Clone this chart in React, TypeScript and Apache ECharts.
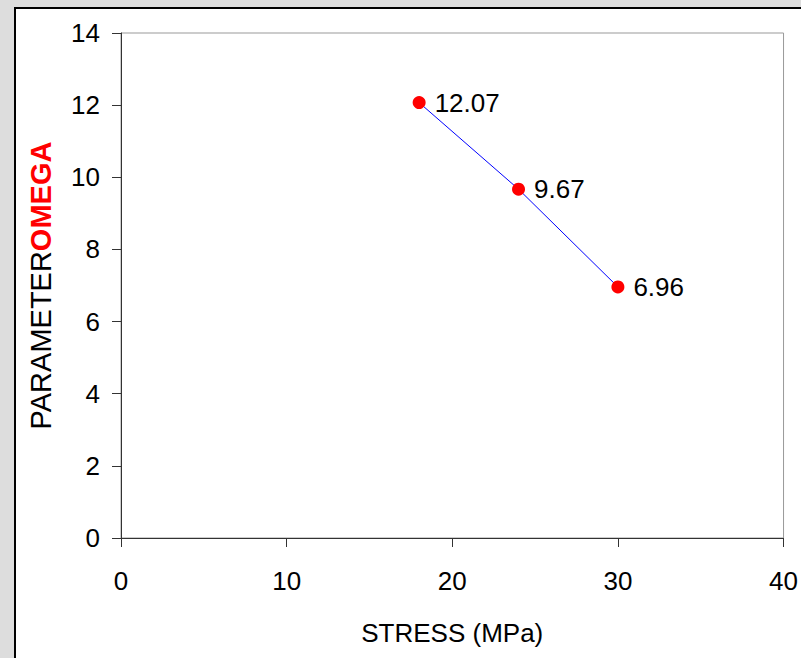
import React, { useEffect, useRef } from "react";
import * as echarts from "echarts";

const stress = [18, 24, 30];
const omega = [12.07, 9.67, 6.96];
const xTicks = { min: 0, max: 40, interval: 10 };
const yTicks = { min: 0, max: 14, interval: 2 };
const xTitle = "STRESS (MPa)";
const yTitleA = "PARAMETER";
const yTitleB = "OMEGA";

const FONT = "'Liberation Sans', Arial, Helvetica, sans-serif";

export default function App() {
  const ref = useRef<HTMLDivElement>(null);
  useEffect(() => {
    if (!ref.current) return;
    const chart = echarts.init(ref.current, undefined, { renderer: "svg" });
    chart.setOption({
      animation: false,
      backgroundColor: "#dddddd",
      textStyle: { fontFamily: FONT },
      graphic: [
        {
          type: "rect",
          z: -10,
          silent: true,
          shape: { x: 15, y: 8, width: 800, height: 660 },
          style: { fill: "#ffffff", stroke: "#000000", lineWidth: 2 },
        },
      ],
      grid: {
        left: 121,
        top: 33,
        right: 17,
        bottom: 120,
        show: true,
        backgroundColor: "#ffffff",
        borderColor: "#999999",
        borderWidth: 1,
      },
      xAxis: {
        type: "value",
        min: xTicks.min,
        max: xTicks.max,
        interval: xTicks.interval,
        splitLine: { show: false },
        axisLine: { show: true, onZero: false, lineStyle: { color: "#333333", width: 1 } },
        axisTick: { show: true, inside: false, length: 9, lineStyle: { color: "#333333" } },
        axisLabel: { color: "#000000", fontSize: 26, margin: 30, fontFamily: FONT },
        name: xTitle,
        nameLocation: "middle",
        nameGap: 82,
        nameTextStyle: { color: "#000000", fontSize: 26, fontFamily: FONT },
      },
      yAxis: {
        type: "value",
        min: yTicks.min,
        max: yTicks.max,
        interval: yTicks.interval,
        splitLine: { show: false },
        axisLine: { show: true, onZero: false, lineStyle: { color: "#333333", width: 1 } },
        axisTick: { show: true, inside: false, length: 9, lineStyle: { color: "#333333" } },
        axisLabel: { color: "#000000", fontSize: 26, margin: 21, fontFamily: FONT },
        name: `{a|${yTitleA}}{b|${yTitleB}}`,
        nameLocation: "middle",
        nameRotate: 90,
        nameGap: 66,
        nameTextStyle: {
          fontFamily: FONT,
          rich: {
            a: { color: "#000000", fontSize: 29, fontFamily: FONT },
            b: { color: "#ff0000", fontSize: 29, fontWeight: "bold", fontFamily: FONT },
          },
        },
      },
      series: [
        {
          type: "line",
          data: stress.map((x, i) => [x, omega[i]]),
          symbol: "circle",
          symbolSize: 13,
          itemStyle: { color: "#ff0000" },
          lineStyle: { color: "#0000ff", width: 1 },
          label: {
            show: true,
            position: "right",
            distance: 9,
            color: "#000000",
            fontSize: 26,
            fontFamily: FONT,
            formatter: (p: any) => p.value[1].toFixed(2),
          },
        },
      ],
    });
    return () => chart.dispose();
  }, []);
  return (
    <div
      ref={ref}
      style={{ position: "absolute", left: 0, top: 0, width: 801, height: 658 }}
    />
  );
}
